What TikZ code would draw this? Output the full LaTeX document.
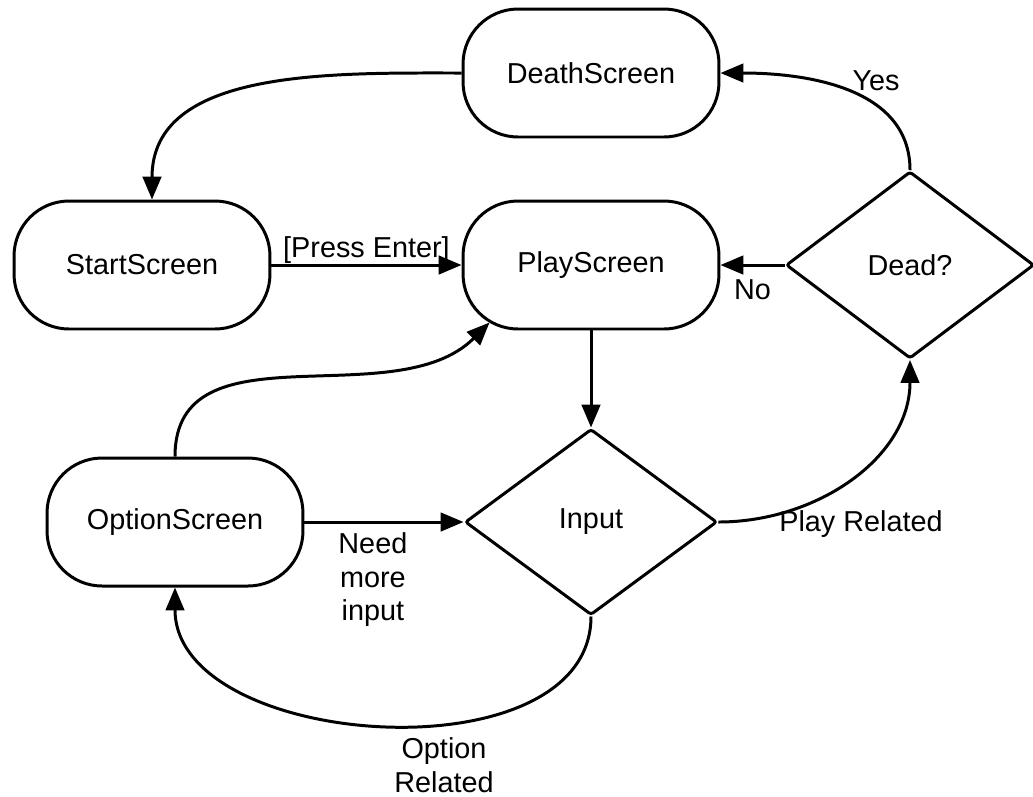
\documentclass[tikz,border=0pt]{standalone}
\usepackage{fontspec}
\setmainfont{Liberation Sans}
\usetikzlibrary{arrows.meta}
\usetikzlibrary{shapes.geometric}
\usetikzlibrary{positioning}
\usetikzlibrary{calc}
\tikzset{screen/.style = {draw, rectangle, rounded corners = 1.1cm, line width = 1.7pt,
                          minimum width = 5.12cm, minimum height = 2.56cm}}
\tikzset{choice/.style = {draw, diamond, rounded corners = 1.5pt, line width = 1.7pt,
                          inner sep = 0, minimum width = 4.96cm, minimum height = 3.74cm}}
\tikzset{flow/.style = {line width = 1.7pt, -{Triangle[length = 13pt, width = 10.5pt]}}}

\begin{document}
\begin{tikzpicture}[x = 0.02cm, y = 0.02cm, font = \fontsize{16.4}{19}\selectfont]
      \useasboundingbox (0, 0) rectangle (1033, -796);

      \node [screen] (death) at (591, -73) {DeathScreen};
      \node [screen] (start) at (142, -265) {StartScreen};
      \node [screen] (play) at (591, -265) {PlayScreen};
      \node [screen] (option) at (175, -522) {OptionScreen};
      \node [choice] (dead) at (910, -265) {Dead?};
      \node [choice, minimum width = 5.04cm, minimum height = 3.72cm] (input) at (591, -522) {Input};

      \draw [flow] (death.west) to [out = 180, in = 90] ([xshift = 0.2cm]start.north);
      \draw [flow] (start) -- node [above, inner sep = 0] (enter) {[Press Enter]} (play);
      \draw [flow] (play) -- (input);
      \draw [flow] (input.east) to [out = 0, in = -90] (dead.south);
      \draw [flow] (dead.north) to [out = 90, in = 0] (death.east);
      \draw [flow] (dead) -- node [below = 4pt] (no) {No} (play);
      \draw [flow] (option.north) to [out = 90, in = 225] ($(play.south west) + (28, 8)$);
      \draw [flow] (option) -- node [below = 2pt, pos = 0.43, align = center] (more) {Need\\more\\input} (input);
      \draw [flow] (input.south) to [out = -90, in = -90] (option.south);

      \node (yes) at (876, -81) {Yes};
      \node (playrel) at (861, -524) {Play Related};
      \node [align = center] (optrel) at (444, -765) {Option\\Related};
    \end{tikzpicture}
\end{document}
